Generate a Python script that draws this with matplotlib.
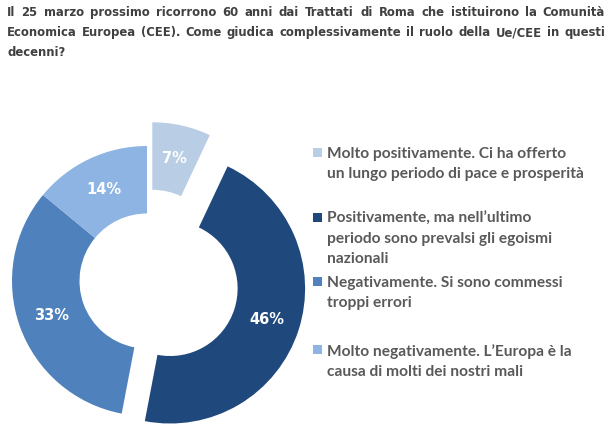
import matplotlib
matplotlib.use("Agg")
import matplotlib.pyplot as plt
from matplotlib.patches import Rectangle

# ---- data ----
categories = [
    "Molto positivamente. Ci ha offerto\nun lungo periodo di pace e prosperità",
    "Positivamente, ma nell\u2019ultimo\nperiodo sono prevalsi gli egoismi\nnazionali",
    "Negativamente. Si sono commessi\ntroppi errori",
    "Molto negativamente. L\u2019Europa è la\ncausa di molti dei nostri mali",
]
values = [7, 46, 33, 14]
colors = ["#B9CDE5", "#1F497D", "#4F81BD", "#8DB4E2"]
explode_frac = [0.18, 0.18, 0.0, 0.0]
title_lines = [
    "Il 25 marzo prossimo ricorrono 60 anni dai Trattati di Roma che istituirono la Comunità",
    "Economica Europea (CEE). Come giudica complessivamente il ruolo della Ue/CEE in questi",
    "decenni?",
]

W, H = 612, 434
fig = plt.figure(figsize=(W / 100, H / 100), dpi=100)
fig.patch.set_facecolor("white")
ax = fig.add_axes([0, 0, 1, 1])

cx, cy, R = 147, H - 281, 135
labels_iter = iter(values)
wedges, texts, autotexts = ax.pie(
    values, colors=colors, explode=[e * R for e in explode_frac],
    startangle=90, counterclock=False,
    radius=R, center=(cx, cy), wedgeprops=dict(width=R * 0.5, linewidth=0),
    autopct=lambda p: f"{next(labels_iter)}%", pctdistance=0.75,
    textprops=dict(color="white", fontsize=10.5, fontweight="bold",
                   family=["DejaVu Sans"]),
)
ax.set_xlim(0, W)
ax.set_ylim(0, H)
ax.set_aspect("equal")
ax.axis("off")

# ---- title (justified) ----
renderer = fig.canvas.get_renderer()
tprops = dict(fontsize=8.4, fontweight="bold", color="#404040",
              family=["DejaVu Sans"], va="baseline", ha="left")
x0, x1 = 7, 605
ys = [H - 16, H - 36, H - 56]
for i, line in enumerate(title_lines):
    if i == len(title_lines) - 1:
        ax.text(x0, ys[i], line, **tprops)
        continue
    words = line.split(" ")
    objs = [ax.text(0, ys[i], w, **tprops) for w in words]
    widths = [o.get_window_extent(renderer).width for o in objs]
    gap = (x1 - x0 - sum(widths)) / (len(words) - 1)
    x = x0
    for o, wd in zip(objs, widths):
        o.set_x(x)
        x += wd + gap

# ---- legend ----
lprops = dict(fontsize=11.2, fontweight="bold", color="#595959",
              family=["Lato", "DejaVu Sans"], va="top", ha="left",
              linespacing=1.56)
leg_tops = [147, 212, 276, 344]          # image y of text top
for cat, col, top in zip(categories, colors, leg_tops):
    c = top + 5.5
    ax.add_patch(Rectangle((313, H - (c + 4.5)), 9, 9, facecolor=col,
                           edgecolor="none"))
    ax.text(327, H - top, cat, **lprops)

fig.savefig("out.png", dpi=100, facecolor="white")
